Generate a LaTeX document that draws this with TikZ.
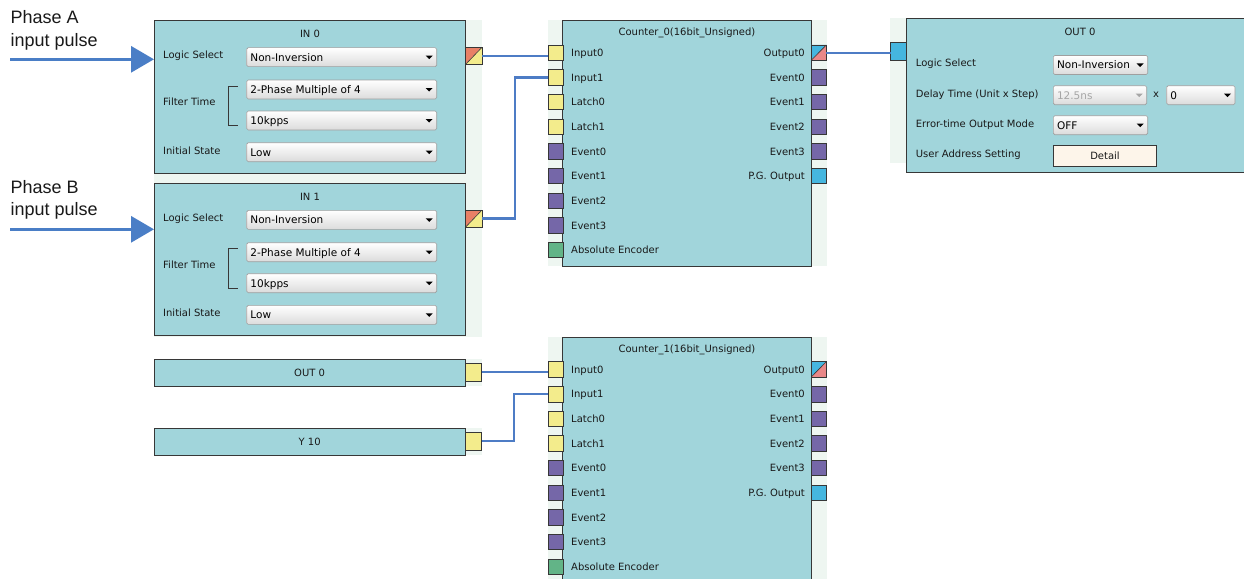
\documentclass[tikz,border=0pt]{standalone}
\usepackage{fontspec}
\setmainfont{DejaVu Sans}
\newfontfamily\phasefont{Liberation Sans}
\usetikzlibrary{arrows.meta,calc}
\definecolor{blkc}{RGB}{161,213,219}
\definecolor{stripc}{RGB}{238,246,241}
\definecolor{bordc}{RGB}{55,55,55}
\definecolor{yel}{RGB}{243,236,140}
\definecolor{purp}{RGB}{117,103,168}
\definecolor{grn}{RGB}{98,180,135}
\definecolor{cyanp}{RGB}{69,182,223}
\definecolor{inred}{RGB}{232,128,102}
\definecolor{pinkp}{RGB}{233,136,136}
\definecolor{wirec}{RGB}{77,124,197}
\definecolor{arrc}{RGB}{74,126,198}
\definecolor{detc}{RGB}{253,245,234}
\tikzset{
  ui/.style={font=\fontsize{10}{12}\selectfont, inner sep=0pt, text=black!90},
  ddtext/.style={font=\fontsize{10.5}{12}\selectfont, inner sep=0pt},
  blk/.style={draw=bordc, fill=blkc, line width=0.9pt, inner sep=0pt, outer sep=0pt},
  strip/.style={fill=stripc, draw=none},
  port/.style={draw=bordc, line width=0.7pt, inner sep=0pt, outer sep=0pt, minimum width=15.3, minimum height=15.5, anchor=north west},
  dd/.style={draw=gray!75, rounded corners=1.5pt, top color=white, bottom color=gray!28, inner sep=0pt, outer sep=0pt, minimum height=19, line width=0.6pt},
  wire/.style={draw=wirec, line width=2.2pt},
  bigarrow/.style={draw=arrc, line width=3pt, -{Triangle[length=23pt,width=26pt]}},
  phase/.style={font=\phasefont\fontsize{18}{22}\selectfont, inner sep=0pt, text=black!90},
  split/.style 2 args={path picture={
    \fill[#1] (path picture bounding box.north west) -- (path picture bounding box.north east) -- (path picture bounding box.south west) -- cycle;
    \fill[#2] (path picture bounding box.north east) -- (path picture bounding box.south east) -- (path picture bounding box.south west) -- cycle;
    \draw[bordc, line width=0.6pt] (path picture bounding box.south west) -- (path picture bounding box.north east);}}
}
% dropdown: name, x, y, width, text, text colour
\newcommand\dropd[6]{%
  \node[dd, minimum width=#4, anchor=north west] (#1) at (#2,#3) {};
  \node[ddtext, anchor=base west, text=#6] (#1t) at ($(#1.south west)+(3.5,-5.6)$) {#5};
  \fill[#6] ($(#1.east)+(-11,-1.5)$) -- ++(7,0) -- ++(-3.5,3.5) -- cycle;
}
% IN block: name, title, y offset
\newcommand\inblk[3]{%
  \node[blk, minimum width=311.7, minimum height=152.3, anchor=north west] (#1) at (154,20.7+#3) {};
  \node[ui, anchor=base] (#1t) at (310,37.8+#3) {#2};
  \node[ui, anchor=base west] (#1l1) at (163,58.3+#3) {Logic Select};
  \node[ui, anchor=base west] (#1l2) at (163,105.3+#3) {Filter Time};
  \node[ui, anchor=base west] (#1l3) at (163,154+#3) {Initial State};
  \dropd{#1d1}{246.7}{47.7+#3}{190}{Non-Inversion}{black}
  \dropd{#1d2}{246.7}{80+#3}{190}{2-Phase Multiple of 4}{black}
  \dropd{#1d3}{246.7}{111+#3}{190}{10kpps}{black}
  \dropd{#1d4}{246.7}{142.7+#3}{190}{Low}{black}
  \draw[bordc, line width=0.7pt] (237.7,86+#3) -- (228.3,86+#3) -- (228.3,125.3+#3) -- (237.7,125.3+#3);
  \node[port, split={inred}{yel}, minimum width=16.3, minimum height=17] (#1p) at (465.7,47.3+#3) {};
}
% counter block: name, title, y offset, strip bottom
\newcommand\ctrblk[4]{%
  \fill[strip] (548,20+#3) rectangle (827,#4);
  \node[blk, minimum width=248.3, minimum height=245.3, anchor=north west] (#1) at (562.7,20.7+#3) {};
  \node[ui, anchor=base] (#1t) at (687,36+#3) {#2};
  \foreach \i/\lab/\col in {0/Input0/yel, 1/Input1/yel, 2/Latch0/yel, 3/Latch1/yel, 4/Event0/purp, 5/Event1/purp, 6/Event2/purp, 7/Event3/purp, 8/Absolute Encoder/grn} {
    \node[port, fill=\col] (#1L\i) at (548,45+24.65*\i+#3) {};
    \node[ui, anchor=base west] (#1Lt\i) at (571,56.6+24.65*\i+#3) {\lab};
  }
  \node[port, split={cyanp}{pinkp}] (#1R0) at (811,45+#3) {};
  \node[ui, anchor=base east] (#1Rt0) at (805,56.6+#3) {Output0};
  \foreach \i/\lab/\col in {1/Event0/purp, 2/Event1/purp, 3/Event2/purp, 4/Event3/purp, 5/P.G. Output/cyanp} {
    \node[port, fill=\col] (#1R\i) at (811,45+24.65*\i+#3) {};
    \node[ui, anchor=base east] (#1Rt\i) at (805,56.6+24.65*\i+#3) {\lab};
  }
}
\begin{document}
\begin{tikzpicture}[x=1pt,y=-1pt]
\useasboundingbox (0,0) rectangle (1244,578);
\clip (0,0) rectangle (1244,578);
\fill[white] (0,0) rectangle (1244,578);

% IN panel
\fill[strip] (154,20) rectangle (482,337);
\inblk{in0}{IN 0}{0}
\inblk{in1}{IN 1}{162.7}

% phase texts and arrows
\node[phase, anchor=base west] (phA1) at (10.5,24) {Phase A};
\node[phase, anchor=base west] (phA2) at (10.5,46.7) {input pulse};
\node[phase, anchor=base west] (phB1) at (10.5,193.3) {Phase B};
\node[phase, anchor=base west] (phB2) at (10.5,215) {input pulse};
\coordinate (pa) at (10,59.3);
\coordinate (pb) at (10,229.3);
\draw[bigarrow] (pa) -- (pa -| in0.west);
\draw[bigarrow] (pb) -- (pb -| in1.west);

% counters
\ctrblk{c0}{Counter\_0(16bit\_Unsigned)}{0}{266}
\ctrblk{c1}{Counter\_1(16bit\_Unsigned)}{316.7}{585}

% OUT 0 block (right)
\fill[strip] (890,18) rectangle (907,163);
\node[blk, minimum width=345, minimum height=154, anchor=north west] (out0) at (906.7,18.3) {};
\node[port, fill=cyanp, minimum width=16, minimum height=18] (o0p) at (890.7,42.7) {};
\node[ui, anchor=base] (o0t) at (1080,35.5) {OUT 0};
\node[ui, anchor=base west] (o0l1) at (915.7,66.7) {Logic Select};
\node[ui, anchor=base west] (o0l2) at (915.7,97.3) {Delay Time (Unit x Step)};
\node[ui, anchor=base west] (o0l3) at (915.7,127.3) {Error-time Output Mode};
\node[ui, anchor=base west] (o0l4) at (915.7,157.3) {User Address Setting};
\dropd{o0d1}{1053.3}{55.5}{94.4}{Non-Inversion}{black}
\dropd{o0d2}{1053.3}{85.7}{93.4}{12.5ns}{gray!70}
\node[ui, anchor=base] (o0x) at (1156,97.5) {x};
\dropd{o0d3}{1166.7}{85.7}{68.3}{0}{black}
\dropd{o0d4}{1053.3}{115.7}{94.4}{OFF}{black}
\node[ui, draw=bordc, fill=detc, line width=0.7pt, minimum width=102.7, minimum height=20.7, anchor=north west] (o0det) at (1053.3,145) {Detail};

% small blocks bottom left
\fill[strip] (465,359.3) rectangle (482,386);
\fill[strip] (465,428.3) rectangle (482,455);
\node[blk, ui, minimum width=310.7, minimum height=26.7, anchor=north west] (bout0) at (154.3,359.3) {OUT 0};
\node[port, fill=yel, minimum width=16.7, minimum height=17.7] (bout0p) at (465,363.3) {};
\node[blk, ui, minimum width=310.7, minimum height=26.7, anchor=north west] (y10) at (154.3,428.3) {Y 10};
\node[port, fill=yel, minimum width=16.7, minimum height=17.7] (y10p) at (465,432.3) {};

% wires
\coordinate (bend1) at (515,0);
\coordinate (bend2) at (514.3,0);
\draw[wire] (in0p.east) -- (in0p.east -| c0L0.west);
\draw[wire] (in1p.east) -- (in1p.east -| bend1) -- (bend1 |- c0L1.west) -- (c0L1.west);
\draw[wire] (c0R0.east) -- (c0R0.east -| o0p.west);
\draw[wire] (bout0p.east) -- (bout0p.east -| c1L0.west);
\draw[wire] (y10p.east) -- (y10p.east -| bend2) -- (bend2 |- c1L1.west) -- (c1L1.west);
\end{tikzpicture}
\end{document}
